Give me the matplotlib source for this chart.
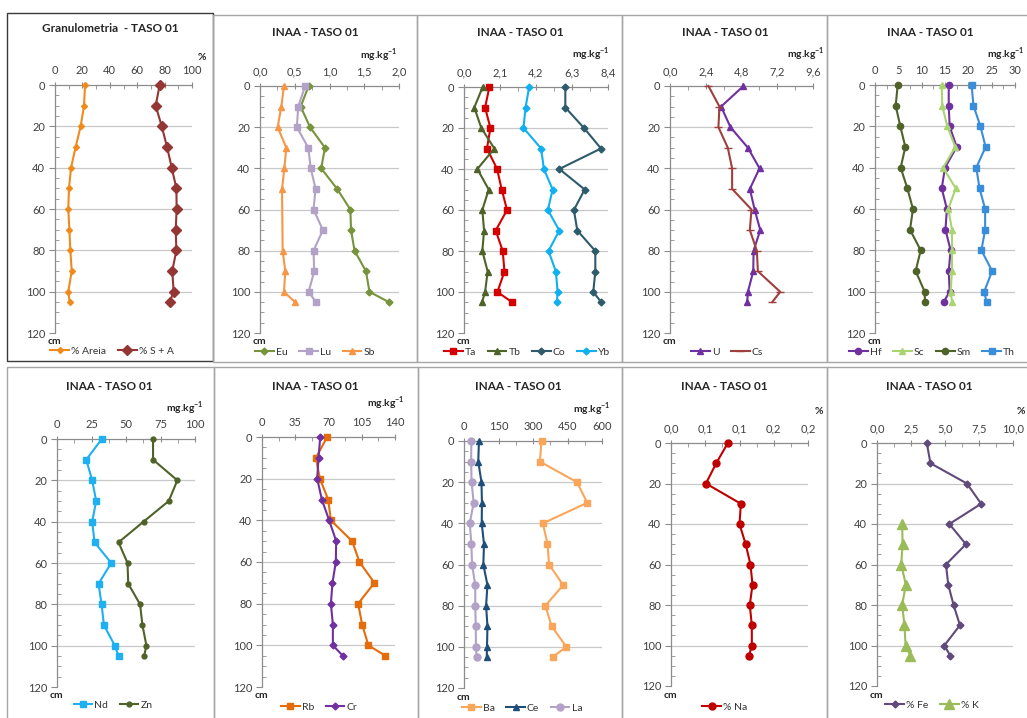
import matplotlib
matplotlib.use("Agg")
import matplotlib.pyplot as plt
from matplotlib.patches import Rectangle
from matplotlib.ticker import MultipleLocator

plt.rcParams['font.family'] = ['Lato', 'DejaVu Sans']

W, H = 1027, 718

depth = [0, 10, 20, 30, 40, 50, 60, 70, 80, 90, 100, 105]
depth_sb = [0, 10, 20, 30, 40, 50, 80, 90, 100, 105]
depth_k = [40, 50, 60, 70, 80, 90, 100, 105]

# Granulometria (%)
areia = [21.9, 21.2, 18.7, 15.1, 11.7, 10.2, 9.7, 10.5, 11.2, 12.2, 9.7, 10.7]
s_a = [76.4, 73.5, 77.9, 81.8, 85.2, 88.6, 88.8, 88.1, 88.6, 85.6, 86.6, 83.7]

# INAA (mg.kg-1)
eu = [0.70, 0.585, 0.72, 0.935, 0.88, 1.11, 1.30, 1.31, 1.36, 1.525, 1.575, 1.855]
lu = [0.65, 0.55, 0.53, 0.695, 0.73, 0.80, 0.77, 0.905, 0.77, 0.78, 0.70, 0.805]
sb = [0.345, 0.307, 0.254, 0.379, 0.350, 0.317, 0.326, 0.364, 0.345, 0.504]

ta = [1.48, 1.23, 1.54, 1.34, 1.93, 2.20, 2.51, 1.85, 2.26, 2.36, 1.95, 2.81]
tb = [1.09, 0.60, 1.01, 1.77, 0.78, 1.44, 1.07, 1.17, 1.07, 1.38, 1.23, 1.05]
co = [5.91, 5.91, 7.00, 7.99, 5.56, 7.04, 6.41, 6.61, 7.66, 7.66, 7.54, 8.01]
yb = [3.80, 3.59, 3.47, 4.50, 4.66, 5.17, 4.89, 5.56, 4.93, 5.36, 5.46, 5.42]

u = [4.93, 3.43, 4.06, 5.23, 6.01, 5.36, 5.68, 6.06, 5.61, 5.59, 5.23, 5.18]
cs = [2.58, 3.32, 3.25, 3.88, 4.17, 4.17, 5.47, 5.36, 5.83, 5.90, 7.40, 6.86]

hf = [15.8, 15.8, 16.0, 17.5, 15.0, 14.3, 15.4, 15.1, 16.2, 15.8, 16.0, 14.7]
sc = [14.3, 14.4, 15.5, 17.2, 14.6, 17.3, 15.7, 16.5, 16.5, 16.5, 16.2, 16.5]
sm = [4.86, 4.43, 5.43, 6.5, 5.5, 6.93, 8.14, 7.5, 9.79, 8.71, 10.64, 10.71]
th = [20.7, 21.1, 22.6, 23.7, 21.7, 22.4, 23.6, 23.6, 22.8, 25.1, 23.4, 23.9]

nd = [32.5, 21.2, 25.5, 28.4, 25.5, 27.2, 39.3, 30.1, 32.3, 34.0, 41.9, 44.6]
zn = [69.6, 69.6, 87.2, 81.0, 62.7, 44.6, 51.1, 51.6, 60.2, 61.9, 64.8, 63.1]

rb = [68.6, 56.7, 60.9, 69.7, 72.5, 94.9, 102.6, 118.3, 101.2, 105.4, 112.0, 129.9]
cr = [61.3, 59.5, 58.1, 63.0, 70.7, 78.1, 77.7, 74.2, 72.5, 74.6, 74.6, 85.1]

ba = [337, 330, 491, 536, 343, 363, 370, 431, 354, 381, 445, 385]
ce = [65, 62, 76, 78, 77, 87, 84, 102, 96, 102, 100, 99]
la = [32, 31, 33, 42, 25, 32, 35, 49, 49, 51, 52, 55]

# %
na = [0.083, 0.066, 0.051, 0.102, 0.100, 0.109, 0.116, 0.119, 0.115, 0.118, 0.118, 0.114]
fe = [3.66, 3.93, 6.61, 7.66, 5.32, 6.54, 5.07, 5.24, 5.63, 6.10, 4.95, 5.39]
k = [1.85, 1.88, 1.78, 2.12, 1.85, 2.02, 2.10, 2.46]

title_inaa = "INAA - TASO 01"
title_gran = "Granulometria  - TASO 01"
unit_mg = "mg.kg$^{\\mathregular{-1}}$"

fig = plt.figure(figsize=(W / 100, H / 100), dpi=100)


def px_rect(x0, y0, x1, y1):
    return [x0 / W, 1 - y1 / H, (x1 - x0) / W, (y1 - y0) / H]


def box(x0, y0, x1, y1, color="#a6a6a6"):
    fig.patches.append(Rectangle((x0 / W, 1 - y1 / H), (x1 - x0) / W, (y1 - y0) / H,
                                 transform=fig.transFigure, fill=False,
                                 edgecolor=color, linewidth=1.0))


def panel(rect, title, title_xy, unit, unit_xy, xmax, xticks, xlabels, series, leg_xy):
    ax = fig.add_axes(px_rect(*rect))
    for x, d, lab, col, mk, ms in series:
        ax.plot(x, d, color=col, marker=mk, markersize=ms, linewidth=1.5,
                markeredgecolor=col, label=lab, clip_on=False, zorder=3)
    ax.set_xlim(0, xmax)
    ax.set_ylim(120, 0)
    ax.xaxis.tick_top()
    ax.set_xticks(xticks)
    ax.set_xticklabels(xlabels)
    ax.xaxis.set_minor_locator(MultipleLocator(xticks[1] / 2))
    ax.set_yticks([0, 20, 40, 60, 80, 100, 120])
    ax.yaxis.set_minor_locator(MultipleLocator(5))
    for g in [20, 40, 60, 80, 100]:
        ax.axhline(g, color="#c8c8c8", linewidth=0.9, zorder=0)
    for s in ["right", "bottom"]:
        ax.spines[s].set_visible(False)
    for s in ["top", "left"]:
        ax.spines[s].set_color("#8c8c8c")
        ax.spines[s].set_linewidth(0.9)
    ax.tick_params(axis="x", which="major", direction="inout", length=5, color="#8c8c8c",
                   labelsize=8, pad=4, labelcolor="#404040")
    ax.tick_params(axis="x", which="minor", direction="in", length=3, color="#8c8c8c")
    ax.tick_params(axis="y", which="major", direction="out", length=4, color="#8c8c8c",
                   labelsize=8, pad=3, labelcolor="#404040")
    ax.tick_params(axis="y", which="minor", direction="in", length=3, color="#8c8c8c")
    ax.patch.set_alpha(0)
    fig.text(title_xy[0] / W, 1 - title_xy[1] / H, title, ha="center", va="center",
             fontsize=8.5, fontweight="bold", color="#262626")
    fig.text(unit_xy[0] / W, 1 - unit_xy[1] / H, unit, ha="right", va="center",
             fontsize=7.5, fontweight="bold", color="#262626")
    fig.text((rect[0] - 7) / W, 1 - (rect[3] + 9) / H, "cm", ha="left", va="center",
             fontsize=7.5, fontweight="bold", color="#262626")
    fig.legend(*ax.get_legend_handles_labels(), loc="center",
               bbox_to_anchor=(leg_xy[0] / W, 1 - leg_xy[1] / H), ncol=len(series),
               frameon=False, fontsize=7.5, handlelength=1.8, handletextpad=0.2,
               columnspacing=1.1, labelcolor="#333333")
    return ax


# panel frames
box(7, 13, 213, 361, color="#3a3a3a")
for x0, x1 in [(213, 417), (417, 622), (622, 827), (827, 1040)]:
    box(x0, 15, x1, 362)
for x0, x1 in [(7, 214), (214, 418), (418, 622), (622, 827), (827, 1040)]:
    box(x0, 367, x1, 730)

panel((55, 85, 192, 333), title_gran, (110, 29), "%", (206, 57), 100,
      [0, 20, 40, 60, 80, 100], ["0", "20", "40", "60", "80", "100"],
      [(areia, depth, "% Areia", "#f08a1c", "D", 3),
       (s_a, depth, "% S + A", "#943634", "D", 5)], (112, 351))

panel((260, 86, 399, 333), title_inaa, (315, 33), unit_mg, (398, 55), 2.0,
      [0, 0.5, 1.0, 1.5, 2.0], ["0,0", "0,5", "1,0", "1,5", "2,0"],
      [(eu, depth, "Eu", "#77933c", "D", 3.5),
       (lu, depth, "Lu", "#b3a2c7", "s", 5),
       (sb, depth_sb, "Sb", "#f79646", "^", 5)], (315, 352))

panel((464, 87, 608, 333), title_inaa, (520, 32), unit_mg, (610, 54), 8.4,
      [0, 2.1, 4.2, 6.3, 8.4], ["0,0", "2,1", "4,2", "6,3", "8,4"],
      [(ta, depth, "Ta", "#d40000", "s", 5),
       (tb, depth, "Tb", "#4f6228", "^", 4),
       (co, depth, "Co", "#2e5b6b", "D", 3.5),
       (yb, depth, "Yb", "#11b0f0", "D", 3.5)], (527, 352))

panel((670, 86, 813, 333), title_inaa, (725, 32), unit_mg, (825, 54), 9.6,
      [0, 2.4, 4.8, 7.2, 9.6], ["0,0", "2,4", "4,8", "7,2", "9,6"],
      [(u, depth, "U", "#7030a0", "^", 5),
       (cs, depth, "Cs", "#a0403e", "_", 6)], (727, 352))

panel((875, 85, 1015, 333), title_inaa, (930, 33), unit_mg, (1025, 54), 30,
      [0, 5, 10, 15, 20, 25, 30], ["0", "5", "10", "15", "20", "25", "30"],
      [(hf, depth, "Hf", "#7030a0", "o", 4.5),
       (sc, depth, "Sc", "#a9d46f", "^", 4.5),
       (sm, depth, "Sm", "#4f6228", "o", 4.5),
       (th, depth, "Th", "#3a8ddb", "s", 5)], (932, 352))

panel((57, 439, 195, 687), title_inaa, (109, 387), unit_mg, (204, 408), 100,
      [0, 25, 50, 75, 100], ["0", "25", "50", "75", "100"],
      [(nd, depth, "Nd", "#1eb0f0", "s", 5),
       (zn, depth, "Zn", "#4f6228", "o", 3.5)], (113, 705))

panel((262, 437, 395, 687), title_inaa, (315, 387), unit_mg, (405, 403), 140,
      [0, 35, 70, 105, 140], ["0", "35", "70", "105", "140"],
      [(rb, depth, "Rb", "#e46c0a", "s", 5),
       (cr, depth, "Cr", "#7030a0", "D", 3.5)], (319, 707))

panel((464, 441, 602, 688), title_inaa, (518, 387), unit_mg, (611, 409), 600,
      [0, 150, 300, 450, 600], ["0", "150", "300", "450", "600"],
      [(ba, depth, "Ba", "#f9a65a", "s", 5),
       (ce, depth, "Ce", "#1f4e79", "^", 4.5),
       (la, depth, "La", "#b3a2c7", "o", 5)], (522, 708))

panel((671, 443, 808, 686), title_inaa, (724, 387), "%", (823, 412), 0.2,
      [0, 0.05, 0.1, 0.15, 0.2], ["0,0", "0,1", "0,1", "0,2", "0,2"],
      [(na, depth, "% Na", "#c00000", "o", 5)], (725, 707))

panel((877, 443, 1013, 686), title_inaa, (929, 386), "%", (1025, 412), 10,
      [0, 2.5, 5.0, 7.5, 10.0], ["0,0", "2,5", "5,0", "7,5", "10,0"],
      [(fe, depth, "% Fe", "#604a7b", "D", 3.5),
       (k, depth_k, "% K", "#9bbb59", "^", 7)], (932, 705))

fig.savefig("out.png", dpi=100, facecolor="white")
